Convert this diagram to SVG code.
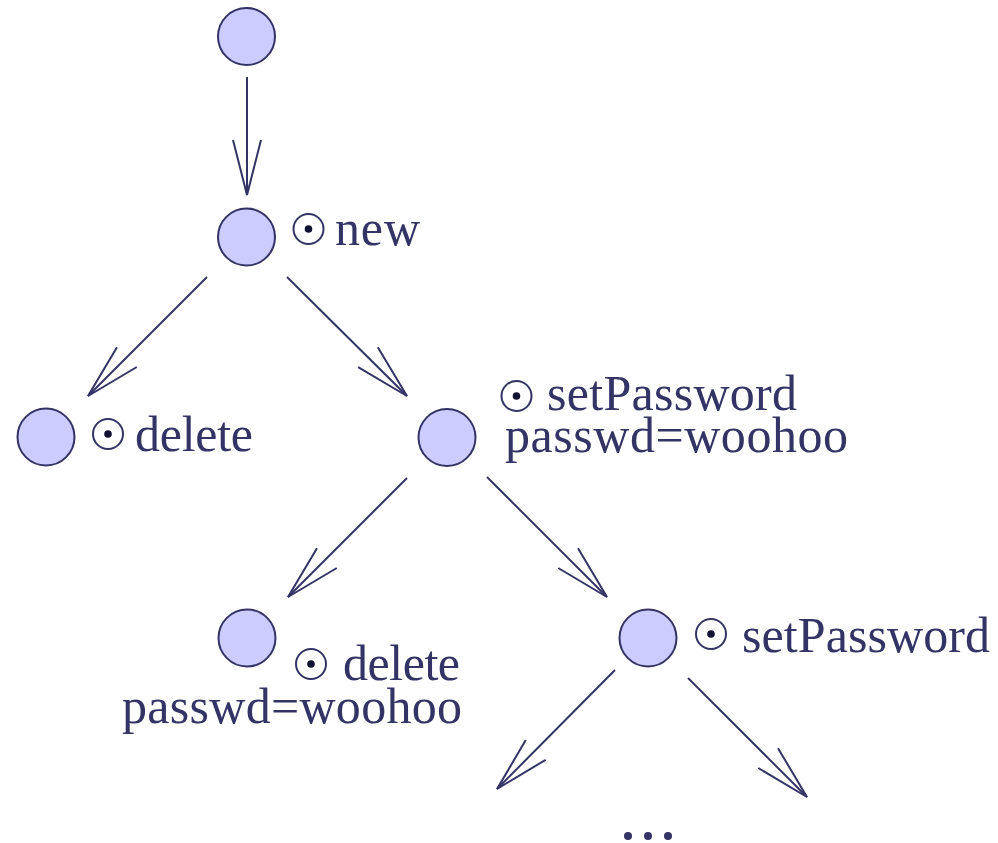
<svg xmlns="http://www.w3.org/2000/svg" width="998" height="843" viewBox="0 0 998 843">
  <style>
    .state { fill: #ccccff; stroke: #333366; stroke-width: 2; }
    .edge { fill: none; stroke: #333366; stroke-width: 2; marker-end: url(#open); }
    .lbl { font-family: "Liberation Serif", "Times New Roman", serif; font-size: 50px; fill: #333366; }
    .odot { fill: none; stroke: #333366; stroke-width: 2; }
    .odot-c { fill: #111133; }
  </style>
  <defs>
    <marker id="open" viewBox="-60 -20 64 40" refX="0" refY="0" markerWidth="64" markerHeight="40" markerUnits="userSpaceOnUse" orient="auto" overflow="visible">
      <path d="M -55 -14 L 0 0 L -55 14" fill="none" stroke="#333366" stroke-width="2"/>
    </marker>
    <g id="circdot">
      <circle class="odot" cx="0" cy="0" r="15"/>
      <circle class="odot-c" cx="0" cy="0" r="3.8"/>
    </g>
  </defs>

  <g id="connectors">
    <line class="edge" x1="247" y1="77" x2="247" y2="195"/>
    <line class="edge" x1="207" y1="277" x2="88" y2="396"/>
    <line class="edge" x1="287" y1="277" x2="407" y2="396"/>
    <line class="edge" x1="407" y1="478" x2="288" y2="597"/>
    <line class="edge" x1="487" y1="477" x2="607" y2="597"/>
    <line class="edge" x1="615" y1="670" x2="497" y2="789"/>
    <line class="edge" x1="688" y1="678" x2="807" y2="797"/>
  </g>

  <g id="root">
    <circle class="state" cx="246.5" cy="36.5" r="28.5"/>
  </g>

  <g id="new">
    <circle class="state" cx="246.5" cy="237" r="28.5"/>
    <use href="#circdot" x="308.5" y="229"/>
    <text class="lbl" x="335" y="245" textLength="85">new</text>
  </g>

  <g id="delete">
    <circle class="state" cx="46" cy="437" r="28.5"/>
    <use href="#circdot" x="108" y="434"/>
    <text class="lbl" x="135" y="451" textLength="118">delete</text>
  </g>

  <g id="setPassword">
    <circle class="state" cx="447" cy="437.5" r="28.5"/>
    <use href="#circdot" x="516.5" y="396"/>
    <text class="lbl" x="547" y="410" textLength="250">setPassword</text>
    <text class="lbl" x="505" y="452" textLength="343">passwd=woohoo</text>
  </g>

  <g id="delete-woohoo">
    <circle class="state" cx="247" cy="638" r="28.5"/>
    <use href="#circdot" x="311" y="664"/>
    <text class="lbl" x="343" y="680" textLength="117">delete</text>
    <text class="lbl" x="122" y="723" textLength="340">passwd=woohoo</text>
  </g>

  <g id="setPassword-again">
    <circle class="state" cx="648" cy="638" r="28.5"/>
    <use href="#circdot" x="711" y="634"/>
    <text class="lbl" x="742" y="652" textLength="248">setPassword</text>
  </g>

  <g id="more">
    <circle cx="628" cy="836" r="4" fill="#333366"/>
    <circle cx="648" cy="836" r="4" fill="#333366"/>
    <circle cx="668" cy="836" r="4" fill="#333366"/>
  </g>
</svg>
